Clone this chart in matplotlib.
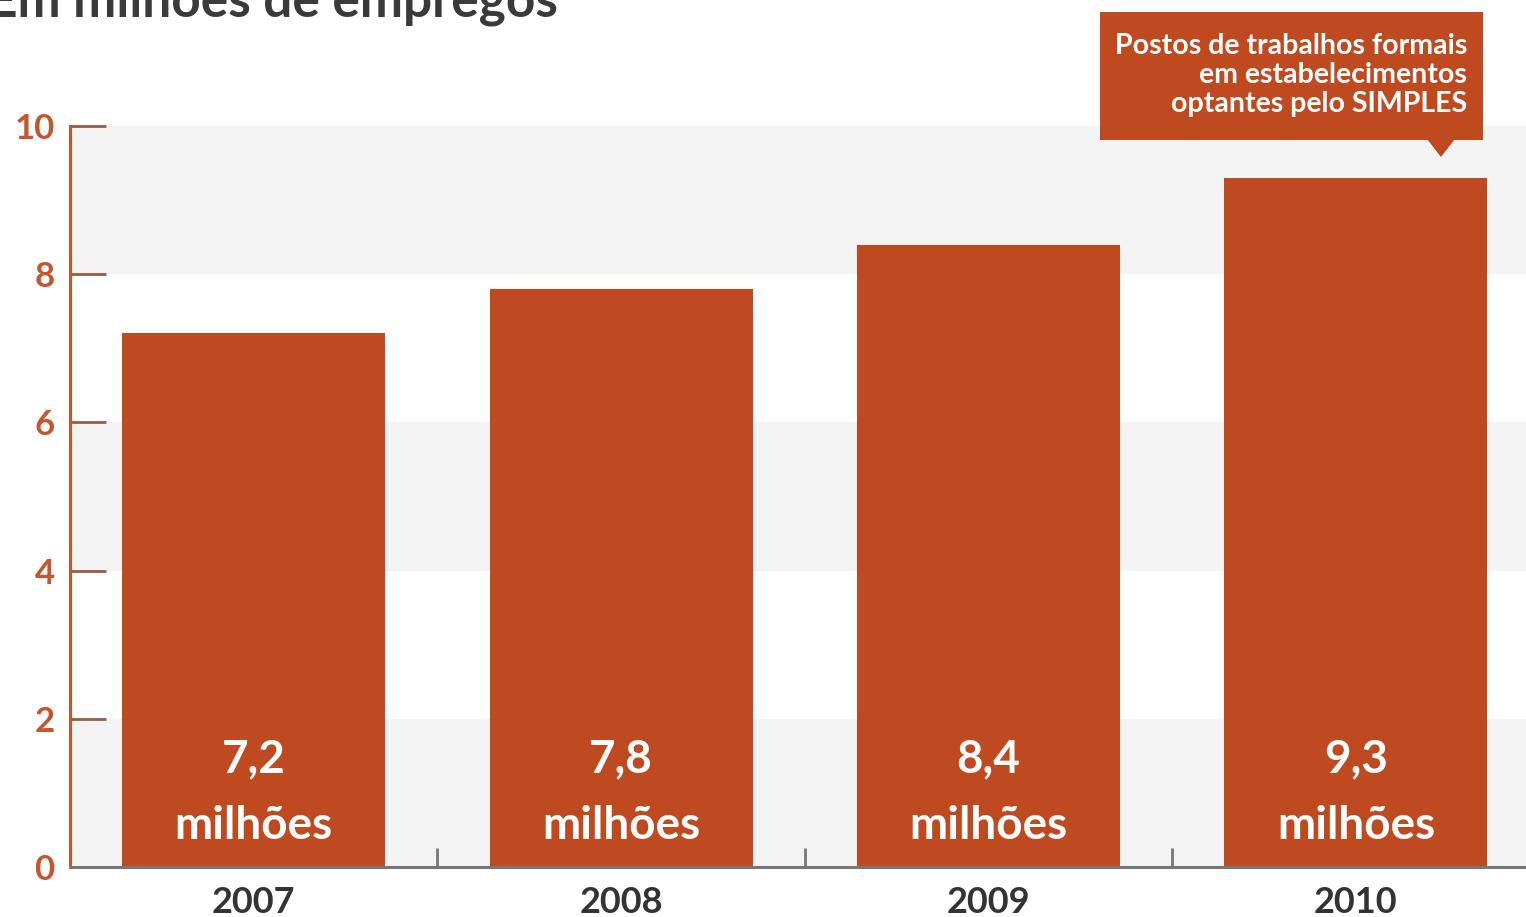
import matplotlib
matplotlib.use("Agg")
import matplotlib.pyplot as plt
from matplotlib.patches import Rectangle, Polygon

plt.rcParams['font.family'] = ['Lato', 'DejaVu Sans']

years = ["2007", "2008", "2009", "2010"]
values = [7.2, 7.8, 8.4, 9.3]
value_labels = ["7,2", "7,8", "8,4", "9,3"]
unit_label = "milhões"
yticks = [0, 2, 4, 6, 8, 10]
title = "Em milhões de empregos"
callout = "Postos de trabalhos formais\nem estabelecimentos\noptantes pelo SIMPLES"

BAR = "#bf4a1f"
AXC = "#c4552c"
GRAY_BAND = "#f3f3f3"

W, H = 1526, 917
fig = plt.figure(figsize=(W / 100, H / 100), dpi=100)
ax = fig.add_axes([70 / W, 50 / H, 1 - 70 / W, 741 / H])

x = list(range(len(years)))
# background bands
for lo in (0, 4, 8):
    ax.axhspan(lo, lo + 2, color=GRAY_BAND, zorder=0, lw=0)

ax.bar(x, values, width=0.716, color=BAR, zorder=2)

for xi, vl in zip(x, value_labels):
    ax.text(xi, 1.45, vl, ha='center', va='center', color='white',
            fontsize=33, fontweight='bold', zorder=3)
    ax.text(xi, 0.55, unit_label, ha='center', va='center', color='white',
            fontsize=33, fontweight='bold', zorder=3)

ax.set_xlim(-0.5, -0.5 + (W - 70) / 367.4)
ax.set_ylim(0, 10)

ax.spines['top'].set_visible(False)
ax.spines['right'].set_visible(False)
ax.spines['left'].set_color(AXC)
ax.spines['left'].set_linewidth(2.2)
ax.spines['bottom'].set_color("#777777")
ax.spines['bottom'].set_linewidth(2.2)

ax.set_yticks(yticks)
ax.set_yticklabels([str(t) for t in yticks])
ax.tick_params(axis='y', direction='in', length=26, width=2, color="#9a5a45",
               pad=11, labelsize=25, labelcolor=AXC)
for lab in ax.get_yticklabels():
    lab.set_fontweight('bold')

ax.set_xticks(x)
ax.set_xticklabels(years)
ax.tick_params(axis='x', which='major', length=0, pad=14, labelsize=26,
               labelcolor="#333333")
for lab in ax.get_xticklabels():
    lab.set_fontweight('bold')
ax.set_xticks([0.5, 1.5, 2.5], minor=True)
ax.tick_params(axis='x', which='minor', direction='in', length=14, width=2,
               color="#777777")

# title (cropped at top, as in the reference)
fig.text(-0.008, 1 - 17 / H, title, ha='left', va='baseline', fontsize=37,
         fontweight='bold', color="#3a3a3a")

# callout box
fig.patches.append(Rectangle((1100 / W, 1 - 140 / H), 383 / W, 128 / H,
                             transform=fig.transFigure, facecolor=BAR,
                             edgecolor='none', zorder=5))
fig.patches.append(Polygon([(1427 / W, 1 - 139 / H), (1455 / W, 1 - 139 / H),
                            (1441 / W, 1 - 157 / H)], closed=True,
                           transform=fig.transFigure, facecolor=BAR,
                           edgecolor='none', zorder=5))
fig.text(1467 / W, 1 - 75 / H, callout, ha='right', va='center',
         multialignment='right', color='white', fontsize=20.5,
         fontweight='bold', linespacing=1.13, zorder=6)

fig.savefig("out.png", dpi=100)
